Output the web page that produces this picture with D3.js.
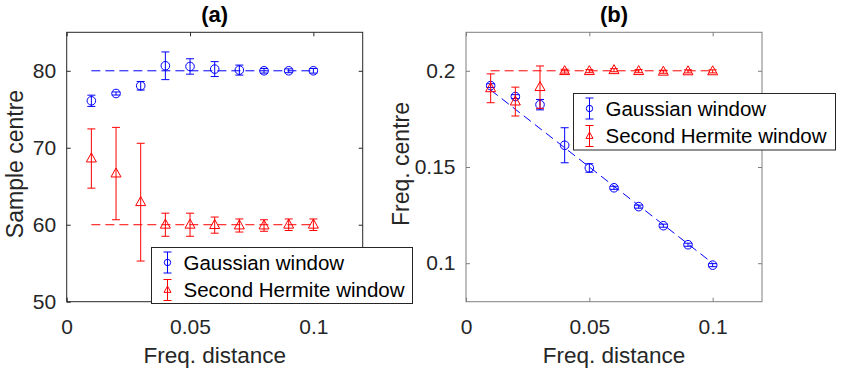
<!DOCTYPE html>
<html><head><meta charset="utf-8">
<script src="https://cdn.jsdelivr.net/npm/d3@7/dist/d3.min.js"></script>
<style>body{margin:0;background:#fff}svg{display:block}</style>
</head><body>
<svg id="chart" width="842" height="374"></svg>
<script>
// ---- data ----
const freqDistance = [0.01,0.02,0.03,0.04,0.05,0.06,0.07,0.08,0.09,0.1];
const sampleGauss    = [76.1,77.05,78.05,80.65,80.56,80.22,80.09,80.0,80.0,80.0];
const sampleGaussErr = [0.73,0.2,0.55,1.8,1.0,0.97,0.65,0.3,0.25,0.3];
const sampleHermite    = [68.6,66.65,62.93,60.0,60.0,59.95,59.9,59.9,60.0,60.0];
const sampleHermiteErr = [3.85,6.0,7.65,1.5,1.5,1.05,0.85,0.75,0.75,0.75];
const freqGauss    = [0.1923,0.1866,0.1824,0.1613,0.1495,0.1392,0.1294,0.1195,0.1096,0.099];
const freqGaussErr = [0.001,0.001,0.0027,0.0091,0.0022,0.0008,0.0008,0.0008,0.0008,0.0008];
const freqHermite    = [0.1909,0.184,0.1915,0.1998,0.1998,0.2003,0.1998,0.1995,0.1997,0.1997];
const freqHermiteErr = [0.0075,0.0075,0.011,0.001,0.0008,0.0008,0.0008,0.0008,0.0008,0.0008];
const refX = [0.01,0.1];
const sampleRefGauss = [80,80];
const sampleRefHermite = [60,60];
const freqRefGauss = [0.19,0.1];
const freqRefHermite = [0.2,0.2];
const xTicks = [0,0.05,0.1];
const sampleTicks = [50,60,70,80];
const freqTicks = [0.1,0.15,0.2];
const seriesNames = ["Gaussian window","Second Hermite window"];
const panelTitles = ["(a)","(b)"];
const xLabel = "Freq. distance";
const yLabels = ["Sample centre","Freq. centre"];

// ---- drawing ----
const svg = d3.select("#chart");
svg.append("rect").attr("width",842).attr("height",374).attr("fill","#fff");
const FONT = "'Liberation Sans', Arial, Helvetica, sans-serif";
const BLUE = "#0000ff", RED = "#ff0000", AX = "#262626";

function triPath(cx, cy, s){
  const h = s*0.9;
  return `M${cx},${cy-h*0.62}L${cx+s/2},${cy+h*0.38}L${cx-s/2},${cy+h*0.38}Z`;
}

function drawPanel(cfg){
  const x = d3.scaleLinear().domain([0,0.12]).range([cfg.left, cfg.left+296]);
  const y = d3.scaleLinear().domain(cfg.yDomain).range([301.7, 32.3]);
  const g = svg.append("g");
  const top = 32.3, bottom = 301.7, left = cfg.left, right = cfg.left+296;

  // dashed reference lines
  const line = d3.line().x((d,i)=>x(refX[i])).y(d=>y(d));
  g.append("path").attr("d", line(cfg.refG)).attr("fill","none")
    .attr("stroke",BLUE).attr("stroke-width",1).attr("stroke-dasharray","9,5");
  g.append("path").attr("d", line(cfg.refH)).attr("fill","none")
    .attr("stroke",RED).attr("stroke-width",1).attr("stroke-dasharray","9,5");

  function errSeries(vals, errs, color, marker){
    const s = g.append("g").attr("stroke",color).attr("fill","none").attr("stroke-width",1);
    freqDistance.forEach((fx,i)=>{
      const cx = x(fx), y0 = y(vals[i]-errs[i]), y1 = y(vals[i]+errs[i]);
      s.append("line").attr("x1",cx).attr("x2",cx).attr("y1",y0).attr("y2",y1);
      s.append("line").attr("x1",cx-4).attr("x2",cx+4).attr("y1",y0).attr("y2",y0);
      s.append("line").attr("x1",cx-4).attr("x2",cx+4).attr("y1",y1).attr("y2",y1);
      if(marker==="o") s.append("circle").attr("cx",cx).attr("cy",y(vals[i])).attr("r",4.3);
      else s.append("path").attr("d",triPath(cx,y(vals[i]),10));
    });
  }
  errSeries(cfg.gVals,cfg.gErr,BLUE,"o");
  errSeries(cfg.hVals,cfg.hErr,RED,"^");

  // box
  g.append("rect").attr("x",left).attr("y",top).attr("width",right-left).attr("height",bottom-top)
    .attr("fill","none").attr("stroke",cfg.axColor).attr("stroke-width",1);

  // ticks (inward)
  const axB = d3.axisBottom(x).tickValues(xTicks).tickSize(-4).tickFormat(d3.format("~g")).tickPadding(17.5);
  const axT = d3.axisTop(x).tickValues(xTicks).tickSize(-4).tickFormat("");
  const axL = d3.axisLeft(y).tickValues(cfg.yTicks).tickSize(-4).tickFormat(d3.format("~g")).tickPadding(10.5);
  const axR = d3.axisRight(y).tickValues(cfg.yTicks).tickSize(-4).tickFormat("");
  const styleAx = sel => { sel.select(".domain").remove();
    sel.selectAll("line").attr("stroke",cfg.axColor);
    sel.selectAll("text").attr("fill",AX).style("font-family",FONT).style("font-size","21px"); };
  g.append("g").attr("transform",`translate(0,${bottom})`).call(axB).call(styleAx);
  g.append("g").attr("transform",`translate(0,${top})`).call(axT).call(styleAx);
  g.append("g").attr("transform",`translate(${left},0)`).call(axL).call(styleAx);
  g.append("g").attr("transform",`translate(${right},0)`).call(axR).call(styleAx);

  // labels
  g.append("text").attr("x",(left+right)/2).attr("y",363).attr("text-anchor","middle")
    .attr("fill",AX).style("font-family",FONT).style("font-size","22.5px").text(xLabel);
  g.append("text").attr("transform",`translate(${cfg.ylabX},${(top+bottom)/2-3}) rotate(-90)`)
    .attr("text-anchor","middle").attr("fill",AX).style("font-family",FONT).style("font-size","23px").text(cfg.yLabel);
  g.append("text").attr("x",(left+right)/2).attr("y",22).attr("text-anchor","middle")
    .attr("fill","#000").style("font-family",FONT).style("font-weight","bold").style("font-size","22px").text(cfg.title);

  // legend
  const L = cfg.legend;
  const lg = svg.append("g");
  lg.append("rect").attr("x",L.x).attr("y",L.y).attr("width",L.w).attr("height",L.h)
    .attr("fill","#fff").attr("stroke",AX).attr("stroke-width",1);
  [[BLUE,"o"],[RED,"^"]].forEach(([c,m],i)=>{
    const ix = L.x+16, cy = L.y + 15 + i*27.5;
    const e = lg.append("g").attr("stroke",c).attr("fill","none");
    e.append("line").attr("x1",ix).attr("x2",ix).attr("y1",cy-10.5).attr("y2",cy+10.5);
    e.append("line").attr("x1",ix-4).attr("x2",ix+4).attr("y1",cy-10.5).attr("y2",cy-10.5);
    e.append("line").attr("x1",ix-4).attr("x2",ix+4).attr("y1",cy+10.5).attr("y2",cy+10.5);
    if(m==="o") e.append("circle").attr("cx",ix).attr("cy",cy).attr("r",3.2);
    else e.append("path").attr("d",triPath(ix,cy,7));
    lg.append("text").attr("x",L.x+32).attr("y",cy+7).attr("fill","#000")
      .style("font-family",FONT).style("font-size","20.5px").text(seriesNames[i]);
  });
}

drawPanel({left:66.7, yDomain:[50,85], yTicks:sampleTicks, gVals:sampleGauss, gErr:sampleGaussErr,
  hVals:sampleHermite, hErr:sampleHermiteErr, refG:sampleRefGauss, refH:sampleRefHermite,
  axColor:"#262626", ylabX:23, yLabel:yLabels[0], title:panelTitles[0],
  legend:{x:151.5,y:247.5,w:261,h:56}});
drawPanel({left:466, yDomain:[0.08,0.22], yTicks:freqTicks, gVals:freqGauss, gErr:freqGaussErr,
  hVals:freqHermite, hErr:freqHermiteErr, refG:freqRefGauss, refH:freqRefHermite,
  axColor:"#7f7f7f", ylabX:409, yLabel:yLabels[1], title:panelTitles[1],
  legend:{x:573.5,y:93.5,w:262,h:56.5}});
</script>
</body></html>
